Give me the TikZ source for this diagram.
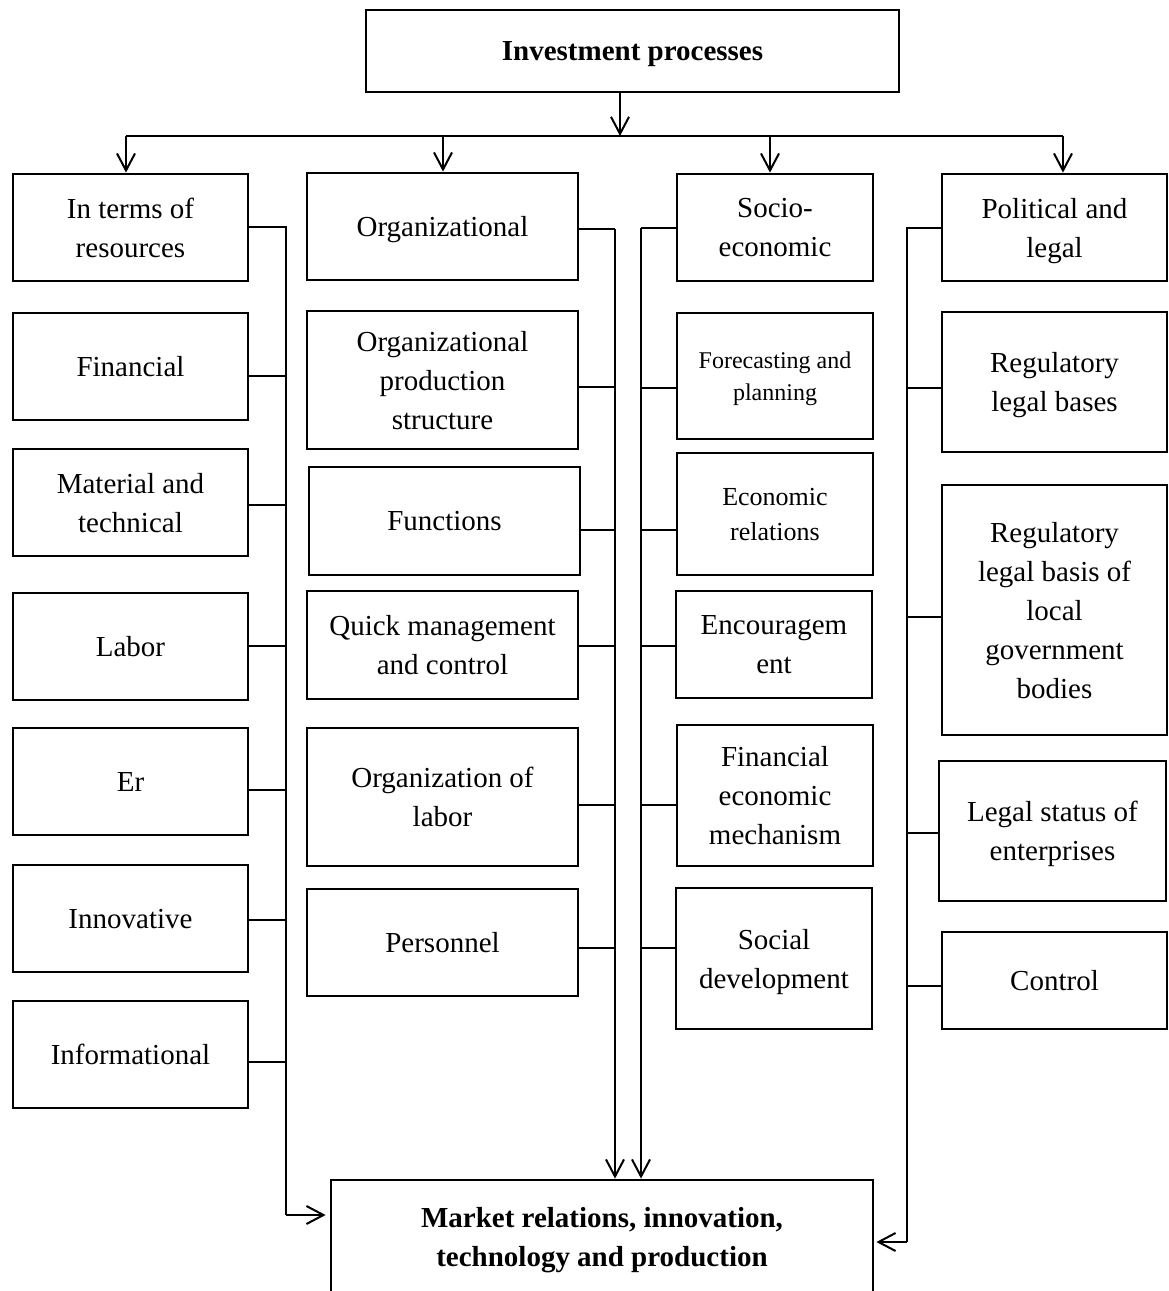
\documentclass[tikz,border=0pt]{standalone}
\usepackage{fontspec}
\setmainfont{Liberation Serif}
\usetikzlibrary{arrows.meta}
\tikzset{
  box/.style={draw, line width=2.8pt, align=center, inner sep=2pt, text depth=0pt, font=\fontsize{29}{39}\selectfont},
  lnk/.style={line width=2pt},
  arr/.style={line width=2pt, -{Straight Barb[length=17pt,width=18pt,line width=2pt]}},
}
\begin{document}
\begin{tikzpicture}[x=1pt,y=-1pt]
\useasboundingbox (0,0) rectangle (1168,1291);
% top
\node[box,minimum width=533,minimum height=82] (top) at (632.5,51) {\textbf{Investment processes}};
% column 1
\node[box,minimum width=235,minimum height=107] (a1) at (130.5,227.5) {In terms of\\resources};
\node[box,minimum width=235,minimum height=107] (a2) at (130.5,366.5) {Financial};
\node[box,minimum width=235,minimum height=107] (a3) at (130.5,502.5) {Material and\\technical};
\node[box,minimum width=235,minimum height=107] (a4) at (130.5,646.5) {Labor};
\node[box,minimum width=235,minimum height=107] (a5) at (130.5,781.5) {Er};
\node[box,minimum width=235,minimum height=107] (a6) at (130.5,918.5) {Innovative};
\node[box,minimum width=235,minimum height=107] (a7) at (130.5,1054.5) {Informational};
% column 2
\node[box,minimum width=271,minimum height=107] (b1) at (442.5,226.5) {Organizational};
\node[box,minimum width=271,minimum height=138] (b2) at (442.5,380) {Organizational\\production\\structure};
\node[box,minimum width=271,minimum height=108] (b3) at (444.5,521) {Functions};
\node[box,minimum width=271,minimum height=108] (b4) at (442.5,645) {Quick management\\and control};
\node[box,minimum width=271,minimum height=138] (b5) at (442.5,797) {Organization of\\labor};
\node[box,minimum width=271,minimum height=107] (b6) at (442.5,942.5) {Personnel};
% column 3
\node[box,minimum width=196,minimum height=107] (c1) at (775,227.5) {Socio-\\economic};
\node[box,minimum width=196,minimum height=126,font=\fontsize{24}{32}\selectfont] (c2) at (775,376) {Forecasting and\\planning};
\node[box,minimum width=196,minimum height=122,font=\fontsize{26}{35}\selectfont] (c3) at (775,514) {Economic\\relations};
\node[box,minimum width=196,minimum height=107] (c4) at (774,644.5) {Encouragem\\ent};
\node[box,minimum width=196,minimum height=141] (c5) at (775,795.5) {Financial\\economic\\mechanism};
\node[box,minimum width=196,minimum height=141] (c6) at (774,958.5) {Social\\development};
% column 4
\node[box,minimum width=225,minimum height=107] (d1) at (1054.5,227.5) {Political and\\legal};
\node[box,minimum width=225,minimum height=140] (d2) at (1054.5,382) {Regulatory\\legal bases};
\node[box,minimum width=225,minimum height=250] (d3) at (1054.5,610) {Regulatory\\legal basis of\\local\\government\\bodies};
\node[box,minimum width=227,minimum height=140] (d4) at (1052.5,831) {Legal status of\\enterprises};
\node[box,minimum width=225,minimum height=97] (d5) at (1054.5,980.5) {Control};
% bottom
\node[box,minimum width=542,minimum height=114] (bot) at (602,1237) {\textbf{Market relations, innovation,}\\\textbf{technology and production}};
% top distribution
\coordinate (hl) at (126,136);
\coordinate (hr) at (1063,136);
\draw[arr] (top.south -| 620,0) -- (620,136);
\draw[lnk] (hl) -- (hr);
\draw[arr] (hl) -- (a1.north -| hl);
\draw[arr] (443,136) -- (b1.north -| 443,0);
\draw[arr] (770,136) -- (c1.north -| 770,0);
\draw[arr] (hr) -- (d1.north -| hr);
% column 1 bus
\coordinate (p1) at (286,227);
\coordinate (q1) at (286,1215);
\draw[lnk] (a1.east |- p1) -- (p1) -- (q1);
\foreach \n/\y in {a2/376,a3/505,a4/646,a5/790,a6/920,a7/1062}
  \draw[lnk] (\n.east |- 0,\y) -- (286,\y);
\draw[arr] (q1) -- ([xshift=-4pt]bot.west |- q1);
% column 2 bus
\coordinate (p2) at (615,229);
\draw[lnk] (b1.east |- p2) -- (p2);
\draw[arr] (p2) -- (bot.north -| p2);
\foreach \n/\y in {b2/387,b3/530,b4/646,b5/805,b6/948}
  \draw[lnk] (\n.east |- 0,\y) -- (615,\y);
% column 3 bus
\coordinate (p3) at (641,228);
\draw[lnk] (c1.west |- p3) -- (p3);
\draw[arr] (p3) -- (bot.north -| p3);
\foreach \n/\y in {c2/388,c3/530,c4/646,c5/805,c6/948}
  \draw[lnk] (\n.west |- 0,\y) -- (641,\y);
% column 4 bus
\coordinate (p4) at (907,228);
\coordinate (q4) at (907,1242);
\draw[lnk] (d1.west |- p4) -- (p4) -- (q4);
\foreach \n/\y in {d2/388,d3/617,d4/833,d5/986}
  \draw[lnk] (\n.west |- 0,\y) -- (907,\y);
\draw[arr] (q4) -- ([xshift=2pt]bot.east |- q4);
\end{tikzpicture}
\end{document}
